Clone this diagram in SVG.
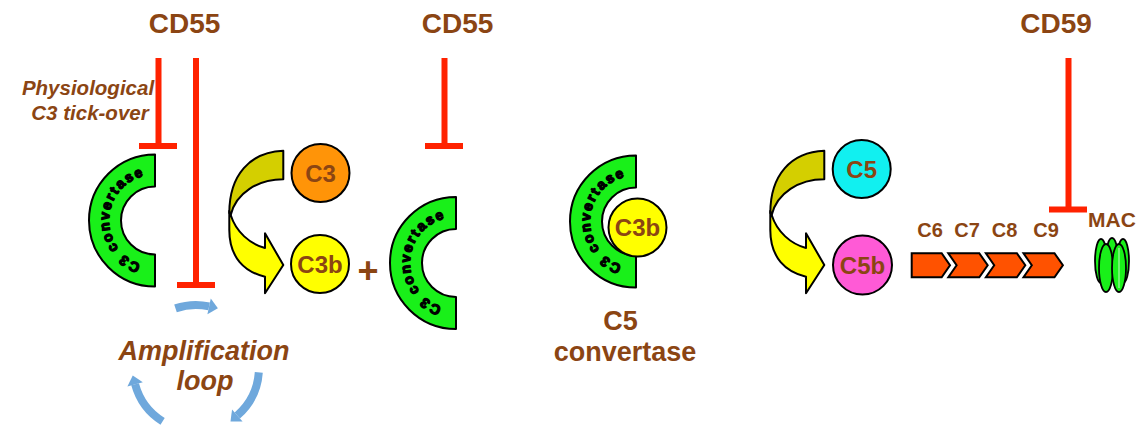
<svg xmlns="http://www.w3.org/2000/svg" xmlns:xlink="http://www.w3.org/1999/xlink" width="1146" height="430" viewBox="0 0 1146 430">
  <style>
    .lbl { font-family: "Liberation Sans", Arial, sans-serif; font-weight: bold; fill: #8B4513; }
    .ital { font-style: italic; }
    .inh { stroke: #FF2200; stroke-width: 6; fill: none; }
    .edge { stroke: #000; stroke-width: 2; stroke-linejoin: round; }
    .conv { fill: #19F019; }
    .arctxt { font-family: "Liberation Sans", Arial, sans-serif; font-weight: bold; font-size: 14px; fill: #000; stroke: #000; stroke-width: 1.3; stroke-linejoin: round; }
    .loop { stroke: #6FA8DC; stroke-width: 8; fill: none; marker-end: url(#loopHead); }
    .chev { fill: #FF5200; stroke: #000; stroke-width: 2; stroke-linejoin: miter; }
    .mac { fill: #19F019; stroke: #000; stroke-width: 1.8; }
  </style>
  <defs>
    <marker id="loopHead" markerUnits="userSpaceOnUse" markerWidth="12" markerHeight="18" refX="0" refY="8" orient="auto" overflow="visible">
      <path d="M0,0 L9,8 L0,16 Z" fill="#6FA8DC"/>
    </marker>
    <!-- C-shaped convertase, centred on the middle of its flat edge -->
    <path id="textArc" d="M-14.2,43.7 A46,46 0 0 1 -9.6,-45"/>
    <g id="convertase">
      <path class="conv edge" d="M0,-66 A66,66 0 0 0 0,66 L0,34 A34,34 0 0 1 0,-34 Z"/>
      <text class="arctxt"><textPath href="#textArc" xlink:href="#textArc" textLength="118" lengthAdjust="spacing">C3 convertase</textPath></text>
    </g>
    <!-- curved cleavage arrow: dark back face, then yellow front face with head -->
    <g id="cleave">
      <path class="edge" fill="#D4CF00" d="M283.3,150.7 C250,152 229.3,175 229.3,213 L230.7,215 C236,193 258,179.3 283.3,179.3 Z"/>
      <path class="edge" fill="#FFFF00" d="M229.3,211 L229.3,230 C229.3,258 245,272 265,276.7 L265,293.3 L283.3,265 L265,233.3 L265,248 C250,244 236,232 230.7,215 Z"/>
    </g>
    <polygon id="chevron" points="0,0 31,0 39.4,12 31,24 0,24 8.3,12"/>
  </defs>

  <!-- regulator labels -->
  <g id="cd55-a">
    <text class="lbl" x="184.5" y="33" font-size="28" text-anchor="middle">CD55</text>
  </g>
  <g id="cd55-b">
    <text class="lbl" x="457.5" y="33" font-size="28" text-anchor="middle">CD55</text>
  </g>
  <g id="cd59">
    <text class="lbl" x="1056" y="33" font-size="28" text-anchor="middle">CD59</text>
  </g>
  <g id="tickover">
    <text class="lbl ital" x="88" y="95" font-size="20.5" text-anchor="middle">Physiological</text>
    <text class="lbl ital" x="90" y="120" font-size="20.5" text-anchor="middle">C3 tick-over</text>
  </g>

  <!-- first C3 convertase -->
  <g id="conv1">
    <use href="#convertase" xlink:href="#convertase" transform="translate(155,220.5)"/>
  </g>

  <!-- C3 cleavage -->
  <g id="cleave-c3">
    <use href="#cleave" xlink:href="#cleave"/>
  </g>
  <g id="c3">
    <circle class="edge" cx="320.5" cy="173" r="29" fill="#FF9408"/>
    <text class="lbl" x="320.5" y="181.5" font-size="24" text-anchor="middle">C3</text>
  </g>
  <g id="c3b">
    <circle class="edge" cx="320" cy="264" r="29" fill="#FFFF00"/>
    <text class="lbl" x="320" y="272.5" font-size="24" text-anchor="middle">C3b</text>
  </g>
  <g id="plus">
    <text class="lbl" x="368" y="283" font-size="36" text-anchor="middle">+</text>
  </g>

  <!-- second C3 convertase -->
  <g id="conv2">
    <use href="#convertase" xlink:href="#convertase" transform="translate(456,263)"/>
  </g>

  <!-- C5 convertase: convertase bound to C3b -->
  <g id="c5conv">
    <use href="#convertase" xlink:href="#convertase" transform="translate(636,221.5)"/>
    <circle class="edge" cx="637.5" cy="227.5" r="29" fill="#FFFF00"/>
    <text class="lbl" x="637.5" y="236" font-size="24" text-anchor="middle">C3b</text>
    <text class="lbl" x="620.5" y="330" font-size="27" text-anchor="middle">C5</text>
    <text class="lbl" x="625" y="361" font-size="27" text-anchor="middle">convertase</text>
  </g>

  <!-- C5 cleavage -->
  <g id="cleave-c5">
    <use href="#cleave" xlink:href="#cleave" transform="translate(541,0)"/>
  </g>
  <g id="c5">
    <circle class="edge" cx="861.7" cy="169" r="29" fill="#11F0F0"/>
    <text class="lbl" x="861.7" y="177.5" font-size="24" text-anchor="middle">C5</text>
  </g>
  <g id="c5b">
    <circle class="edge" cx="862.5" cy="265" r="29.5" fill="#FF5AD6"/>
    <text class="lbl" x="862.5" y="273.5" font-size="24" text-anchor="middle">C5b</text>
  </g>

  <!-- terminal components C6-C9 -->
  <g id="terminal">
    <text class="lbl" x="930" y="237" font-size="20" text-anchor="middle">C6</text>
    <text class="lbl" x="967" y="237" font-size="20" text-anchor="middle">C7</text>
    <text class="lbl" x="1004.5" y="237" font-size="20" text-anchor="middle">C8</text>
    <text class="lbl" x="1046" y="237" font-size="20" text-anchor="middle">C9</text>
    <polygon class="chev" points="911.7,253.3 941.7,253.3 950,265.3 941.7,277.3 911.7,277.3"/>
    <use class="chev" href="#chevron" xlink:href="#chevron" transform="translate(948.3,253.3)"/>
    <use class="chev" href="#chevron" xlink:href="#chevron" transform="translate(985.9,253.3)"/>
    <use class="chev" href="#chevron" xlink:href="#chevron" transform="translate(1023.5,253.3)"/>
  </g>

  <!-- membrane attack complex -->
  <g id="mac">
    <text class="lbl" x="1112" y="227" font-size="21" text-anchor="middle">MAC</text>
    <ellipse class="mac" cx="1101" cy="261" rx="6" ry="22"/>
    <ellipse class="mac" cx="1112" cy="259" rx="6" ry="21"/>
    <ellipse class="mac" cx="1123" cy="261" rx="6" ry="22"/>
    <ellipse class="mac" cx="1106" cy="268" rx="7" ry="24"/>
    <ellipse class="mac" cx="1119" cy="268" rx="7" ry="24"/>
    <path d="M1119,248 L1119,288" stroke="#8CF58C" stroke-width="1.5"/>
  </g>

  <!-- amplification loop -->
  <g id="amplification">
    <text class="lbl ital" x="204" y="360" font-size="27" text-anchor="middle">Amplification</text>
    <text class="lbl ital" x="205" y="390" font-size="27" text-anchor="middle">loop</text>
  </g>

  <!-- connectors: inhibition bars and loop arrows -->
  <g id="connectors">
    <path class="inh" d="M158.5,58 V146 M139,146 H177"/>
    <path class="inh" d="M196,58 V285 M177,285 H215"/>
    <path class="inh" d="M444.5,58 V146 M425,146 H463"/>
    <path class="inh" d="M1068.5,58 V209.5 M1049,209.5 H1087"/>
    <path class="loop" d="M175.5,308.4 A63,63 0 0 1 209.1,306.4"/>
    <path class="loop" d="M258.8,372.4 A63,63 0 0 1 237.3,415.5"/>
    <path class="loop" d="M162.6,421.4 A63,63 0 0 1 135.1,384.3"/>
  </g>
</svg>
